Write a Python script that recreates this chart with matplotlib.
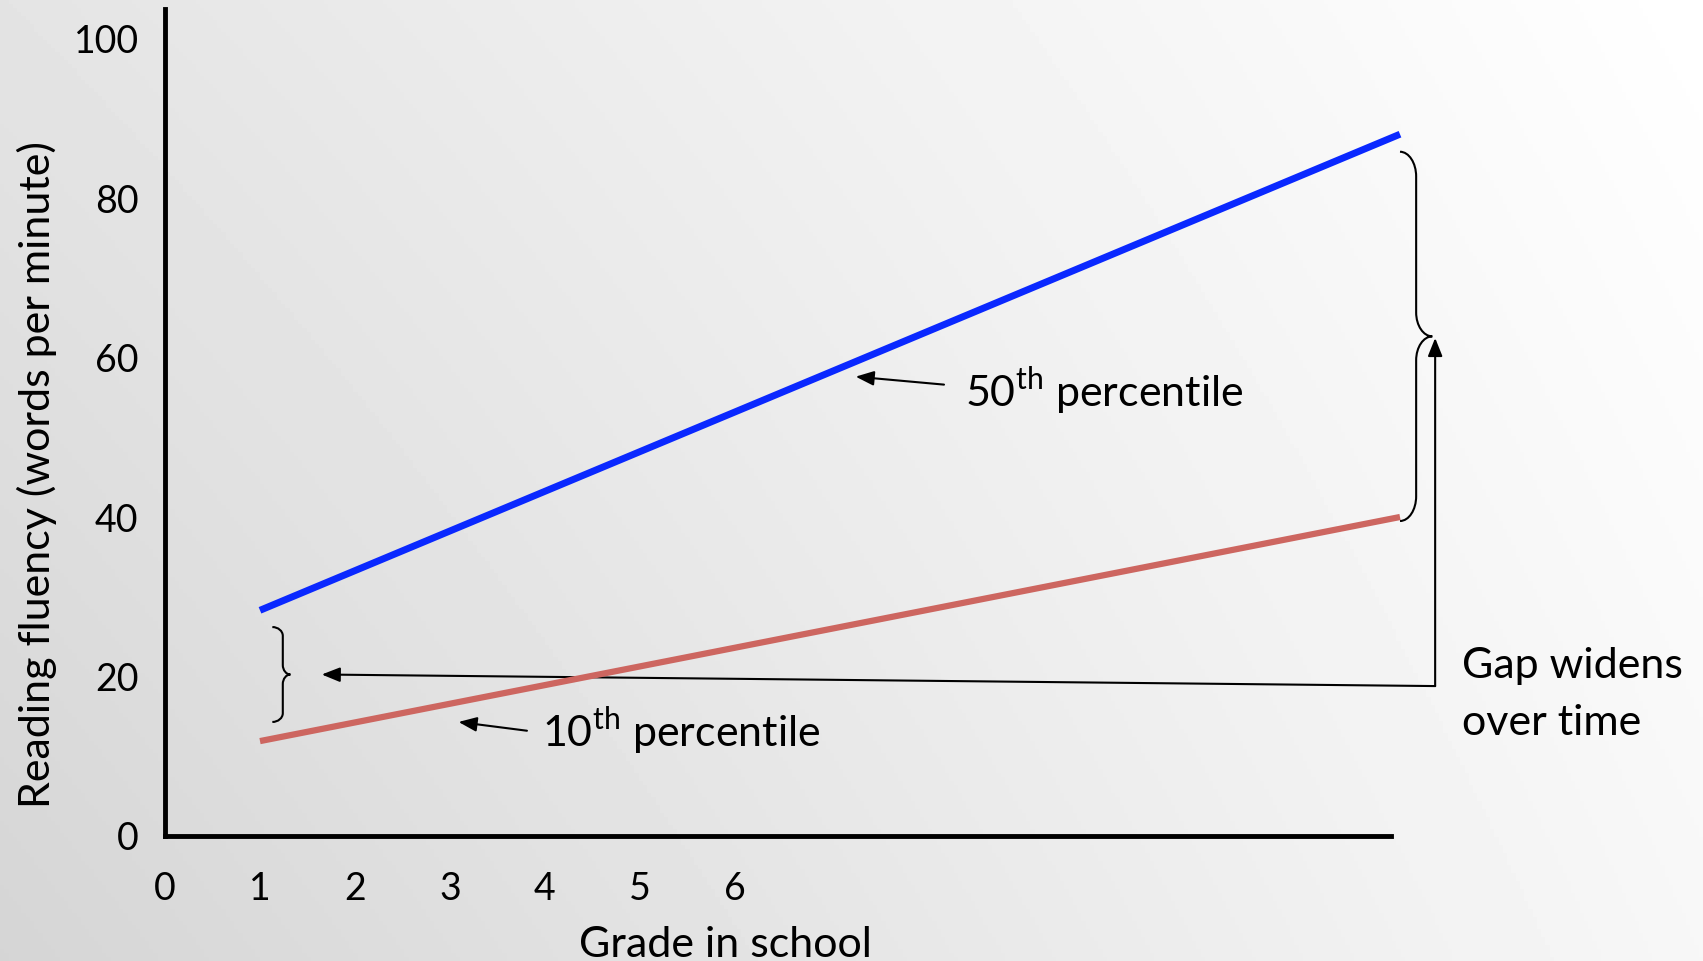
import matplotlib.pyplot as plt
import numpy as np
from matplotlib.path import Path
from matplotlib.patches import PathPatch

plt.rcParams['font.family'] = ['Lato', 'DejaVu Sans']
plt.rcParams['mathtext.fontset'] = 'custom'
plt.rcParams['mathtext.rm'] = 'Lato'

# reading fluency at the start and end of schooling
grades = [1, 13]
p50 = [28.3, 88.0]
p10 = [11.9, 40.0]
yticks = [0, 20, 40, 60, 80, 100]
xticks = [0, 1, 2, 3, 4, 5, 6]

W, H = 1703, 961
fig = plt.figure(figsize=(W / 100, H / 100), dpi=100)

# soft grey background, lighter toward the upper right
bg = fig.add_axes([0, 0, 1, 1], zorder=-1)
u = 1 - np.linspace(0, 1, 400)[None, :]
w = np.linspace(0, 1, 240)[:, None]
shade = (255 - 27 * u - 8 * w - 7 * u * w) / 255
bg.imshow(shade, cmap='gray', vmin=0, vmax=1, aspect='auto', extent=[0, 1, 0, 1])
bg.axis('off')

ax = fig.add_axes([165 / W, (H - 836) / H, 1520 / W, 827 / H])
ax.patch.set_visible(False)
ax.set_xlim(0, 16)
ax.set_ylim(0, 103.7)

ax.plot(grades, p50, color='#0a28ff', lw=5, solid_capstyle='butt')
ax.plot(grades, p10, color='#cd6660', lw=4.5, solid_capstyle='butt', zorder=3)

for s in ['top', 'right']:
    ax.spines[s].set_visible(False)
for s in ['left', 'bottom']:
    ax.spines[s].set_linewidth(3.5)
    ax.spines[s].set_color('black')
ax.spines['bottom'].set_bounds(0, 12.9)
ax.spines['left'].set_bounds(0, 103.7)

ax.set_xticks(xticks)
ax.set_yticks(yticks)
ax.tick_params(axis='x', length=0, pad=25, labelsize=27)
ax.tick_params(axis='y', length=0, pad=19, labelsize=27)

ax.set_xlabel('Grade in school', fontsize=31)
ax.xaxis.set_label_coords(0.369, -0.109)
ax.set_ylabel('Reading fluency (words per minute)', fontsize=31)
ax.yaxis.set_label_coords(-0.071, 0.4365)


def brace(ax, xl, xs, xt, bottom, top, r, rt, lw=1.5):
    # right-facing curly brace between bottom and top
    k = 0.55
    mid = (top + bottom) / 2
    verts = [
        (xl, top),
        (xl + (xs - xl) * k, top), (xs, top - r * (1 - k)), (xs, top - r),
        (xs, mid + rt),
        (xs, mid + rt * (1 - k)), (xs + (xt - xs) * (1 - k), mid), (xt, mid),
        (xs + (xt - xs) * (1 - k), mid), (xs, mid - rt * (1 - k)), (xs, mid - rt),
        (xs, bottom + r),
        (xs, bottom + r * (1 - k)), (xl + (xs - xl) * k, bottom), (xl, bottom),
    ]
    codes = [Path.MOVETO] + [Path.CURVE4] * 3 + [Path.LINETO] + [Path.CURVE4] * 6 \
        + [Path.LINETO] + [Path.CURVE4] * 3
    ax.add_patch(PathPatch(Path(verts, codes), fill=False, lw=lw, color='black',
                           clip_on=False))
    return xt, mid


tip_small = brace(ax, 1.13, 1.24, 1.32, p10[0] + 2.4, p50[0] - 2.1, 1.1, 1.2)
tip_big = brace(ax, 13.0, 13.17, 13.34, p10[-1] - 0.5, p50[-1] - 2.2, 3.1, 3.0)

head = '-|>,head_length=0.55,head_width=0.22'
arrow = dict(arrowstyle=head, color='black', lw=1.5, mutation_scale=20,
             shrinkA=0, shrinkB=0)

# arrows from the note to both braces
corner = (13.37, 18.8)
ax.annotate('', xy=(tip_small[0] + 0.33, tip_small[1]), xytext=corner,
            arrowprops=arrow, zorder=2)
ax.annotate('', xy=(13.37, tip_big[1] - 0.2), xytext=corner, arrowprops=arrow)
ax.text(13.65, 19.8, 'Gap widens', fontsize=31, va='baseline', ha='left')
ax.text(13.65, 12.7, 'over time', fontsize=31, va='baseline', ha='left')

ax.annotate('', xy=(7.27, 57.6), xytext=(8.2, 56.6), arrowprops=arrow)
ax.text(8.42, 53.8, r'50$^{\mathrm{th}}$ percentile', fontsize=31, va='baseline')
ax.annotate('', xy=(3.09, 14.3), xytext=(3.81, 13.2), arrowprops=arrow)
ax.text(3.97, 11.2, r'10$^{\mathrm{th}}$ percentile', fontsize=31, va='baseline')

fig.savefig('out.png', dpi=100)
